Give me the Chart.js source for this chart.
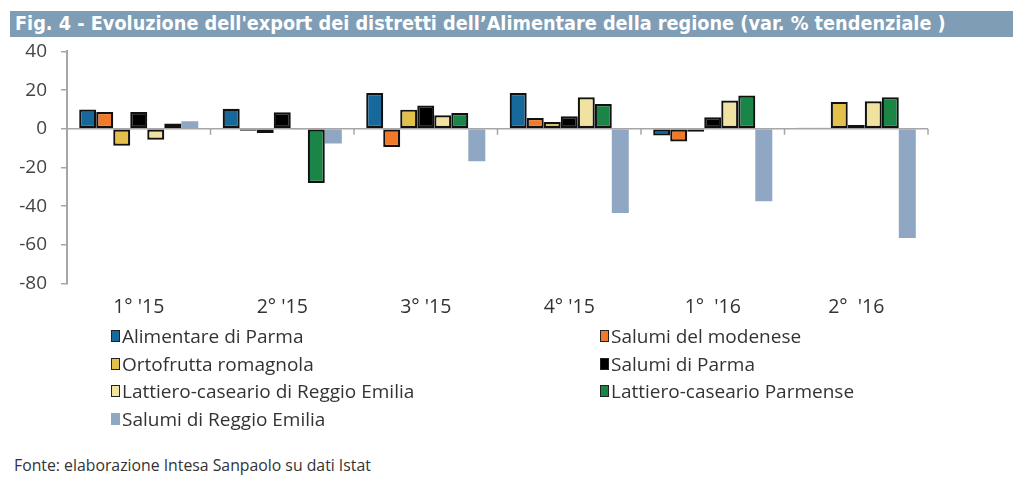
<!DOCTYPE html>
<html>
<head>
<meta charset="utf-8">
<script src="https://cdn.jsdelivr.net/npm/chart.js@4"></script>
<style>
  body { margin: 0; background: #fff; width: 1024px; height: 487px; position: relative; overflow: hidden; font-family: "Open Sans", sans-serif; }
  #title { position: absolute; left: 10px; top: 11px; width: 1003px; height: 26px; background: #7f9db5; color: #fff;
           font-family: "Liberation Sans Narrow", "DejaVu Sans Condensed", sans-serif; font-weight: bold; font-size: 19.7px;
           line-height: 26px; padding-left: 5px; box-sizing: border-box; white-space: nowrap; }
  #wrap { position: absolute; left: 0; top: 26px; width: 1024px; height: 297px; }
  #legend { position: absolute; left: 111px; top: 322px; width: 800px; display: grid; grid-template-columns: 489px 300px; row-gap: 0; }
  .item { height: 27.7px; display: flex; align-items: center; font-size: 19px; color: #333; white-space: nowrap; }
  .box { width: 9px; height: 12px; margin-right: 2px; box-sizing: border-box; }
  #source { position: absolute; left: 14px; top: 454px; font-size: 15.8px; color: #333; }
</style>
</head>
<body>
<div id="title">Fig. 4 - Evoluzione dell'export dei distretti dell’Alimentare della regione (var. % tendenziale )</div>
<div id="wrap"><canvas id="chart" width="1024" height="297"></canvas></div>
<div id="legend"></div>
<div id="source">Fonte: elaborazione Intesa Sanpaolo su dati Istat</div>
<script>
const quarters = ["1° '15", "2° '15", "3° '15", "4° '15", "1°  '16", "2°  '16"];

const alimentareParma = [10, 10.4, 18.5, 18.5, -3.4, 0.5];
const salumiModenese = [8.7, -1, -9.4, 5.6, -6.5, 0.5];
const ortofruttaRomagnola = [-8.7, -2.2, 9.9, 3.5, -1.5, 13.9];
const salumiParma = [8.7, 8.5, 12.1, 6.5, 6, 2];
const lattieroReggio = [-5.6, -0.5, 7, 16.3, 14.6, 14.2];
const lattieroParmense = [2.7, -28, 8.2, 12.8, 17.2, 16.3];
const salumiReggio = [3.9, -7.6, -16.8, -43.5, -37.5, -56.4];

const seriesNames = [
    "Alimentare di Parma", "Salumi del modenese", "Ortofrutta romagnola", "Salumi di Parma",
    "Lattiero-caseario di Reggio Emilia", "Lattiero-caseario Parmense", "Salumi di Reggio Emilia"
];
const seriesData = [alimentareParma, salumiModenese, ortofruttaRomagnola, salumiParma, lattieroReggio, lattieroParmense, salumiReggio];
const seriesColors = ['#17699c', '#f07a2a', '#e3bf4c', '#000000', '#f0e3a2', '#1b8548', '#8fa7c2'];

const yTicks = [40, 20, 0, -20, -40, -60, -80];

// little tick marks on the zero line at category boundaries
const zeroTicks = {
    id: 'zeroTicks',
    afterDatasetsDraw(chart) {
        const x = chart.scales.x, y = chart.scales.y;
        const y0 = y.getPixelForValue(0);
        const ctx = chart.ctx;
        ctx.save();
        ctx.strokeStyle = '#a6a6a6';
        ctx.lineWidth = 1.5;
        for (let i = 0; i <= quarters.length; i++) {
            const px = x.getPixelForValue(i - 0.5);
            ctx.beginPath();
            ctx.moveTo(px, y0);
            ctx.lineTo(px, y0 + 6);
            ctx.stroke();
        }
        ctx.restore();
    }
};

const chart = new Chart(document.getElementById('chart'), {
    type: 'bar',
    data: {
        labels: quarters,
        datasets: seriesNames.map((name, i) => ({
            label: name,
            data: seriesData[i],
            backgroundColor: seriesColors[i],
            borderColor: i === 6 ? seriesColors[i] : '#111',
            borderWidth: i === 6 ? 0 : 2.2,
            borderSkipped: false,
            categoryPercentage: 0.83,
            barPercentage: 1
        }))
    },
    options: {
        responsive: false,
        animation: false,
        maintainAspectRatio: false,
        layout: { padding: { left: 0, right: 96, top: 4, bottom: 0 } },
        plugins: { legend: { display: false }, tooltip: { enabled: false } },
        scales: {
            x: {
                grid: { display: false },
                border: { display: false },
                ticks: { color: '#333', font: { family: 'Open Sans', size: 19.5 }, padding: 4, maxRotation: 0, autoSkip: false }
            },
            y: {
                min: -80, max: 40,
                afterFit(scale) { scale.width = 67; },
                afterBuildTicks(scale) { scale.ticks = yTicks.map(v => ({ value: v })); },
                border: { color: '#a6a6a6', width: 2 },
                grid: {
                    drawOnChartArea: true,
                    color: ctx => ctx.tick && ctx.tick.value === 0 ? '#a6a6a6' : 'rgba(0,0,0,0)',
                    lineWidth: 1.5,
                    tickColor: '#a6a6a6',
                    tickLength: 6
                },
                ticks: { color: '#444', font: { family: 'Open Sans', size: 19 }, padding: 14, autoSkip: false }
            }
        }
    },
    plugins: [zeroTicks]
});

// html legend in two columns
const legend = document.getElementById('legend');
chart.data.datasets.forEach((ds, i) => {
    const item = document.createElement('div');
    item.className = 'item';
    const box = document.createElement('span');
    box.className = 'box';
    box.style.background = ds.backgroundColor;
    box.style.border = i === 6 ? 'none' : '1.5px solid #222';
    item.appendChild(box);
    item.appendChild(document.createTextNode(ds.label));
    legend.appendChild(item);
});
</script>
</body>
</html>
